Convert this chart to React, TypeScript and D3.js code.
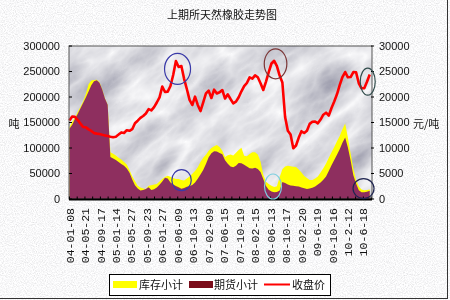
import React from "react";
import * as d3 from "d3";

// Shanghai Futures Exchange natural rubber: weekly samples (every 3rd week)
const title = "上期所天然橡胶走势图";

const dateLabels = [
  "04-01-08", "04-05-21", "04-09-17", "05-01-14", "05-05-27", "05-09-23",
  "06-01-27", "06-06-09", "06-10-13", "07-02-09", "07-06-15", "07-10-19",
  "08-02-15", "08-06-13", "08-10-17", "09-02-20", "09-6-19", "09-10-16",
  "10-2-12", "10-6-18",
];
const labelStepWeeks = 17;
const totalWeeks = 333;
const sampleStepWeeks = 3;

// 收盘价 (元/吨)
const closePrice = [
  15390, 16180, 16120, 15530, 14820, 14120, 14080, 13650, 13350, 12920,
  12820, 12750, 12590, 12470, 12330, 12200, 12120, 12220, 12630, 13060,
  12940, 13490, 13370, 13690, 14840, 15350, 15900, 16270, 16760, 17630,
  17370, 18020, 18920, 19920, 22060, 20980, 21060, 22160, 24310, 27060,
  25880, 26080, 23570, 21570, 19430, 18430, 20060, 18450, 17250, 18940,
  20700, 21230, 19800, 21430, 20700, 20920, 21370, 19700, 20530, 19610,
  18750, 19080, 19960, 21120, 22120, 22750, 23840, 23590, 24240, 23880,
  22710, 21370, 23020, 24860, 26570, 27100, 26040, 24200, 22840, 16080,
  13390, 12650, 9940, 10490, 12040, 13290, 12940, 13370, 14730, 15140,
  15200, 14840, 15570, 16530, 16920, 16370, 17840, 19120, 20530, 22330,
  23920, 24900, 23860, 23920, 24900, 24840, 22690, 21710, 21730, 22980,
  24410,
];

// 库存小计 (吨)
const inventoryTotal = [
  141200, 151600, 159400, 170600, 180600, 191200, 206100, 224900, 232200, 233300,
  234000, 229000, 215000, 197000, 184700, 91600, 88800, 85100, 80800, 77300,
  72700, 67800, 57000, 44500, 35100, 26100, 22700, 20800, 19600, 26100,
  26900, 28200, 29400, 34300, 39400, 43100, 45500, 43500, 41200, 39200,
  39200, 37500, 36300, 40200, 44300, 49600, 54900, 62500, 72500, 80800,
  86900, 94700, 100200, 103300, 106100, 102000, 94500, 82400, 85700, 87300,
  85100, 90600, 96100, 100600, 84900, 83700, 88200, 91600, 91600, 87100,
  73500, 47600, 33700, 29400, 25900, 23300, 24900, 42500, 58400, 63500,
  65300, 64300, 63100, 62700, 57600, 52000, 45300, 41400, 37300, 37500,
  40200, 44300, 52000, 60200, 69600, 80800, 91600, 102200, 113100, 123500,
  136700, 148000, 120400, 89000, 59200, 37600, 24500, 18400, 17100, 17500,
  18600,
];

// 期货小计 (吨)
const futuresStock = [
  137600, 145500, 156700, 166500, 177300, 188000, 198800, 211000, 223000, 231000,
  233000, 228000, 214700, 196900, 184600, 82400, 79600, 76500, 72500, 68800,
  65100, 59800, 51400, 38200, 27000, 20800, 16900, 17500, 19600, 22900,
  17600, 19000, 22700, 28000, 34300, 41800, 40200, 32500, 28200, 25500,
  22900, 20200, 21800, 23900, 25700, 27600, 32400, 39800, 48000, 56900,
  68400, 81800, 89800, 93700, 93300, 90200, 87600, 75900, 69000, 63700,
  62400, 65100, 70600, 70200, 67000, 63500, 60400, 59600, 61400, 58800,
  52900, 39200, 25500, 18000, 14500, 13100, 13700, 16500, 33300, 31600,
  28400, 26500, 26000, 25100, 24300, 22500, 21200, 19800, 20800, 22200,
  24500, 28400, 32500, 37800, 44100, 54900, 66300, 76700, 86900, 97500,
  110400, 120600, 101200, 75300, 46500, 30400, 17100, 13100, 13100, 14300,
  16100,
];

const leftTicks = [0, 50000, 100000, 150000, 200000, 250000, 300000];
const rightTicks = [0, 5000, 10000, 15000, 20000, 25000, 30000];

// hand-drawn rings marking the highs and the low stock points
const highlights = [
  { week: 119.3, value: 25500, axis: "right", rx: 13, ry: 15.5, color: "#3a3aa8" },
  { week: 123.7, value: 37000, axis: "left", rx: 9.7, ry: 10.5, color: "#3a3aa8" },
  { week: 227, value: 26500, axis: "right", rx: 11.3, ry: 15, color: "#7a3434" },
  { week: 224.2, value: 24500, axis: "left", rx: 8.5, ry: 12.5, color: "#7ccfe0" },
  { week: 328.3, value: 23000, axis: "right", rx: 7.5, ry: 13.5, color: "#2f4a4a" },
  { week: 323.7, value: 20500, axis: "left", rx: 10.5, ry: 10, color: "#1f2550" },
];

const W = 450;
const H = 300;
const M = { left: 69, right: 372, top: 46, bottom: 199 };

const NUM_FONT = "'Liberation Sans', Arial, sans-serif";
const CJK_FONT = "'Noto Sans CJK SC', 'Liberation Sans', sans-serif";

export default function App() {
  const x = d3.scaleLinear().domain([0, totalWeeks]).range([M.left, M.right]);
  const yL = d3.scaleLinear().domain([0, 300000]).range([M.bottom, M.top]);
  const yR = d3.scaleLinear().domain([0, 30000]).range([M.bottom, M.top]);
  const wk = (i: number) => i * sampleStepWeeks + 0.5;

  const area = d3
    .area<number>()
    .x((_, i) => x(wk(i)))
    .y0(yL(0))
    .y1((d) => yL(d));
  const priceLine = d3
    .line<number>()
    .x((_, i) => x(wk(i)))
    .y((d) => yR(d));

  const minorTicks = d3.range(0, totalWeeks, labelStepWeeks / 2);
  const pw = M.right - M.left;
  const ph = M.bottom - M.top;
  const cx = (M.left + M.right) / 2;
  const cy = (M.top + M.bottom) / 2;

  return (
    <div style={{ position: "fixed", left: 0, top: 0, width: W, height: H }}>
      <svg width={W} height={H} viewBox={`0 0 ${W} ${H}`} style={{ display: "block" }}>
        <defs>
          <filter id="grain" x="0" y="0" width="100%" height="100%">
            <feTurbulence type="fractalNoise" baseFrequency="0.9" numOctaves="2" seed="7" result="n" />
            <feColorMatrix
              in="n"
              type="matrix"
              values="0.5 0 0 0 0.69  0.5 0 0 0 0.69  0.5 0 0 0 0.70  0 0 0 0 1"
            />
          </filter>
          <filter id="marble" x="0" y="0" width="100%" height="100%">
            <feTurbulence type="turbulence" baseFrequency="0.011 0.026" numOctaves="5" seed="23" result="t" />
            <feColorMatrix
              in="t"
              type="matrix"
              values="-0.7 0 0 0 0.98  -0.7 0 0 0 0.98  -0.62 0 0 0 0.99  0 0 0 0 1"
            />
          </filter>
          <clipPath id="plotClip">
            <rect x={M.left} y={M.top} width={pw} height={ph} />
          </clipPath>
        </defs>

        {/* page background */}
        <rect x={0} y={0} width={W} height={H} fill="#ececec" filter="url(#grain)" />

        {/* marble plot background */}
        <g clipPath="url(#plotClip)">
          <rect
            x={cx - 260}
            y={cy - 260}
            width={520}
            height={520}
            fill="#ddd"
            filter="url(#marble)"
            transform={`rotate(-40 ${cx} ${cy})`}
          />
        </g>

        {/* stock areas */}
        <path d={area(inventoryTotal) ?? ""} fill="#ffff00" />
        <path d={area(futuresStock) ?? ""} fill="#8e2f5f" />

        {/* closing price */}
        <path
          d={priceLine(closePrice) ?? ""}
          fill="none"
          stroke="#ff0000"
          strokeWidth={2.6}
          strokeLinejoin="round"
        />

        {/* plot frame */}
        <rect x={M.left} y={M.top} width={pw} height={ph} fill="none" stroke="#555" strokeWidth={1} />
        <line x1={M.left} x2={M.right} y1={M.bottom + 0.5} y2={M.bottom + 0.5} stroke="#000" strokeWidth={2} />

        {/* bottom ticks */}
        {minorTicks.map((w) => (
          <line
            key={w}
            x1={x(w + 0.5)}
            x2={x(w + 0.5)}
            y1={M.bottom}
            y2={M.bottom - 2.5}
            stroke="#000"
            strokeWidth={1}
          />
        ))}

        {/* left axis */}
        {leftTicks.map((t) => (
          <g key={`l${t}`}>
            <line x1={M.left} x2={M.left + 3} y1={yL(t)} y2={yL(t)} stroke="#000" />
            <text
              x={60}
              y={yL(t)}
              dy="0.36em"
              textAnchor="end"
              fontFamily={NUM_FONT}
              fontSize={11}
              fill="#111"
            >
              {t}
            </text>
          </g>
        ))}
        <text x={14} y={124} dy="0.36em" textAnchor="middle" fontFamily={CJK_FONT} fontSize={11} fill="#111">
          吨
        </text>

        {/* right axis */}
        {rightTicks.map((t) => (
          <g key={`r${t}`}>
            <line x1={M.right - 1} x2={M.right + 2} y1={yR(t)} y2={yR(t)} stroke="#000" />
            <text
              x={379}
              y={yR(t)}
              dy="0.36em"
              textAnchor="start"
              fontFamily={NUM_FONT}
              fontSize={11}
              fill="#111"
            >
              {t}
            </text>
          </g>
        ))}
        <text x={413} y={124} dy="0.36em" textAnchor="start" fontFamily={CJK_FONT} fontSize={11} fill="#111">
          元/吨
        </text>

        {/* date labels */}
        {dateLabels.map((lab, i) => {
          const lx = x(i * labelStepWeeks + 0.5);
          return (
            <text
              key={lab}
              transform={`translate(${lx},${208}) rotate(-90)`}
              dy="0.36em"
              textAnchor="end"
              fontFamily="'Liberation Mono', 'DejaVu Sans Mono', monospace"
              fontSize={11.5}
              fill="#111"
            >
              {lab}
            </text>
          );
        })}

        {/* rings */}
        {highlights.map((h, i) => (
          <ellipse
            key={i}
            cx={x(h.week)}
            cy={h.axis === "left" ? yL(h.value) : yR(h.value)}
            rx={h.rx}
            ry={h.ry}
            fill="none"
            stroke={h.color}
            strokeWidth={1.2}
          />
        ))}

        {/* title */}
        <text x={222} y={15} dy="0.36em" textAnchor="middle" fontFamily={CJK_FONT} fontSize={11} fill="#111">
          {title}
        </text>

        {/* legend */}
        <rect x={109.5} y={274.5} width={221} height={21} fill="#fff" stroke="#000" strokeWidth={1} />
        <rect x={113} y={281} width={24} height={7} fill="#ffff00" />
        <text x={139} y={285} dy="0.36em" fontFamily={CJK_FONT} fontSize={11} fill="#111">
          库存小计
        </text>
        <rect x={189} y={281} width={24} height={7} fill="#7a0c1a" />
        <text x={214} y={285} dy="0.36em" fontFamily={CJK_FONT} fontSize={11} fill="#111">
          期货小计
        </text>
        <line x1={264} x2={290} y1={284.5} y2={284.5} stroke="#ff0000" strokeWidth={2} />
        <text x={292} y={285} dy="0.36em" fontFamily={CJK_FONT} fontSize={11} fill="#111">
          收盘价
        </text>

        {/* outer frame shadow */}
        <line x1={447.5} x2={447.5} y1={0} y2={299} stroke="#333" strokeWidth={1} />
        <line x1={0} x2={448} y1={298.5} y2={298.5} stroke="#333" strokeWidth={1} />
      </svg>
    </div>
  );
}
